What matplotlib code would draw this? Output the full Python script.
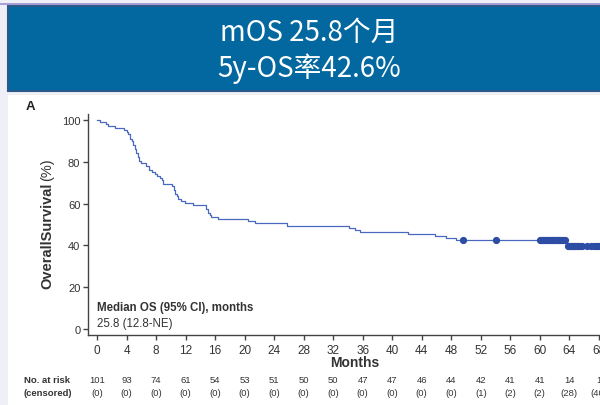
import matplotlib
matplotlib.use("Agg")
import matplotlib.pyplot as plt
from matplotlib.patches import Rectangle
from matplotlib.lines import Line2D
import matplotlib.transforms as mtransforms

plt.rcParams['font.family'] = ['Liberation Sans', 'DejaVu Sans']

# ---- data ----
step_times = [0, 0.4, 1.2, 1.5, 2.4, 3.7, 4.0, 4.2, 4.5, 4.7, 4.9, 5.1, 5.3, 5.5, 5.7,
              5.9, 6.7, 7.0, 7.4, 7.8, 8.1, 8.5, 8.8, 9.0, 10.1, 10.4, 10.6, 10.8,
              11.0, 11.4, 11.9, 13.0, 14.8, 15.0, 15.3, 15.5, 16.4, 20.4, 21.4, 25.8,
              34.2, 35.0, 35.6, 42.1, 45.8, 47.3, 48.7, 63.6, 68.5]
step_surv = [100, 99.0, 98.0, 97.0, 96.0, 95.0, 94.1, 93.1, 91.1, 90.1, 88.1, 86.1, 84.2,
             82.2, 80.2, 79.2, 78.2, 76.2, 75.2, 74.3, 73.3, 72.3, 71.3, 69.3, 68.3, 66.3,
             64.4, 63.4, 62.4, 61.4, 60.4, 59.4, 57.4, 55.4, 54.5, 53.5, 52.5, 51.5, 50.5,
             49.5, 48.5, 47.5, 46.5, 45.5, 44.6, 43.6, 42.6, 39.6, 39.6]

censor_times = [49.6, 54.1,
                60.0, 60.2, 60.4, 60.6, 60.8, 61.0, 61.2, 61.4, 61.6, 61.8, 62.0, 62.2,
                62.4, 62.6, 62.8, 63.0, 63.2, 63.4,
                63.8, 64.0, 64.2, 64.4, 64.6, 64.8, 65.0, 65.2, 65.4, 65.7,
                66.4, 67.0, 67.3, 67.6, 67.9, 68.2]
censor_surv = [42.6, 42.6,
               42.6, 42.6, 42.6, 42.6, 42.6, 42.6, 42.6, 42.6, 42.6, 42.6, 42.6, 42.6,
               42.6, 42.6, 42.6, 42.6, 42.6, 42.6,
               39.6, 39.6, 39.6, 39.6, 39.6, 39.6, 39.6, 39.6, 39.6, 39.6,
               39.6, 39.6, 39.6, 39.6, 39.6, 39.6]

risk_months = [0, 4, 8, 12, 16, 20, 24, 28, 32, 36, 40, 44, 48, 52, 56, 60, 64, 68]
at_risk = [101, 93, 74, 61, 54, 53, 51, 50, 50, 47, 47, 46, 44, 42, 41, 41, 14, 1]
censored = [0, 0, 0, 0, 0, 0, 0, 0, 0, 0, 0, 0, 0, 1, 2, 2, 28, 40]

y_ticks = [0, 20, 40, 60, 80, 100]

W, H = 600, 406
fig = plt.figure(figsize=(W / 100, H / 100), dpi=100)
fig.patch.set_facecolor('#efeff7')

def fx(px):
    return px / W

def fy(py):
    return 1 - py / H

# white panel
fig.add_artist(Rectangle((fx(8), 0), fx(620) - fx(8), fy(96), transform=fig.transFigure,
                         facecolor='white', edgecolor='none', zorder=0))
# top thin purple line
fig.add_artist(Line2D([0, 1], [fy(4.5), fy(4.5)], transform=fig.transFigure,
                      color='#9c92cf', lw=1.2, zorder=1))
# banner
fig.add_artist(Rectangle((fx(8), fy(92)), fx(620) - fx(8), fy(7) - fy(92),
                         transform=fig.transFigure, facecolor='#02689f',
                         edgecolor='#2a5a8c', lw=1.5, zorder=1))
fig.text(fx(309), fy(33), 'mOS 25.8个月', color='white', fontsize=20, fontweight='medium',
         ha='center', va='center', family=['Noto Sans CJK SC', 'DejaVu Sans'])
fig.text(fx(309), fy(69), '5y-OS率42.6%', color='white', fontsize=20, fontweight='medium',
         ha='center', va='center', family=['Noto Sans CJK SC', 'DejaVu Sans'])

# axes geometry
px_per_month = 7.38
x0_px = 97
xmin, xmax = -1.22, 70
px_per_pct = 2.09
y0_px = 330
ymin, ymax = -3, 103
left_px = x0_px + xmin * px_per_month
right_px = x0_px + xmax * px_per_month
top_px = y0_px - ymax * px_per_pct
bot_px = y0_px - ymin * px_per_pct

ax = fig.add_axes([fx(left_px), fy(bot_px), fx(right_px) - fx(left_px), fy(top_px) - fy(bot_px)])
ax.set_facecolor('none')
ax.set_xlim(xmin, xmax)
ax.set_ylim(ymin, ymax)
for s in ['top', 'right']:
    ax.spines[s].set_visible(False)
for s in ['left', 'bottom']:
    ax.spines[s].set_color('#444444')
    ax.spines[s].set_linewidth(1.0)

ax.step(step_times, step_surv, where='post', color='#4a68bd', lw=0.9, zorder=3)
ax.plot(censor_times, censor_surv, 'o', color='#2d4ca3', ms=4.2, mec='#2d4ca3', zorder=4,
        clip_on=False)

ax.set_xticks(risk_months)
ax.set_yticks(y_ticks)
ax.tick_params(axis='both', colors='#444444', labelcolor='#333333', length=3.5, width=1.0)
ax.tick_params(axis='x', labelsize=8.5, pad=2.5)
ax.tick_params(axis='y', labelsize=8, pad=2)

fig.text(fx(355), fy(363), 'Months', fontsize=10, fontweight='bold', color='#333333',
         ha='center', va='center')
fig.text(fx(47), fy(236), 'OverallSurvival', fontsize=10.5, fontweight='bold', color='#333333',
         ha='center', va='center', rotation=90)
fig.text(fx(47), fy(170), '(%)', fontsize=10.5, color='#333333',
         ha='center', va='center', rotation=90)
fig.text(fx(30), fy(107), 'A', fontsize=9.5, fontweight='bold', color='#222222',
         ha='center', va='center')
fig.text(fx(97), fy(308), 'Median OS (95% CI), months', fontsize=8.3, fontweight='bold',
         color='#333333', ha='left', va='center')
fig.text(fx(97), fy(324), '25.8 (12.8-NE)', fontsize=8.3, color='#333333',
         ha='left', va='center')

fig.text(fx(24), fy(381), 'No. at risk', fontsize=6.8, fontweight='bold', color='#333333',
         ha='left', va='center')
fig.text(fx(24), fy(394), '(censored)', fontsize=6.8, fontweight='bold', color='#333333',
         ha='left', va='center')
trans = mtransforms.blended_transform_factory(ax.transData, fig.transFigure)
for m, n, c in zip(risk_months, at_risk, censored):
    fig.text(m, fy(381), str(n), fontsize=6.8, color='#333333', ha='center', va='center',
             transform=trans)
    fig.text(m, fy(394), f'({c})', fontsize=6.8, color='#333333', ha='center', va='center',
             transform=trans)

fig.savefig('out.png', dpi=100, facecolor=fig.get_facecolor())
